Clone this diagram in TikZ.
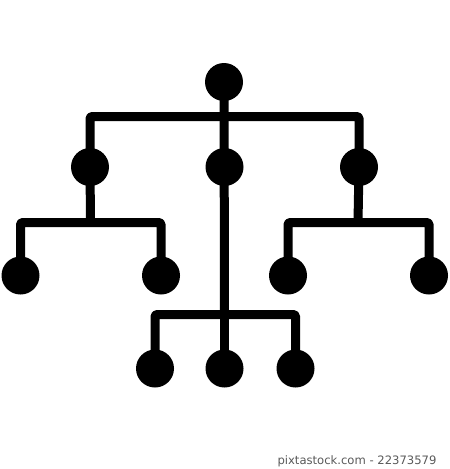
\documentclass[tikz,border=0pt]{standalone}
\usepackage{fontspec}
\newfontfamily\wmfont{DejaVu Sans}
\usetikzlibrary{backgrounds}
\begin{document}
\begin{tikzpicture}[x=1pt,y=-1pt,
  dot/.style={circle,fill=black,inner sep=0pt,minimum size=38pt},
  link/.style={line width=9pt,line join=round,rounded corners=1.5pt}]
\useasboundingbox (0,0) rectangle (450,469);
% level 0
\node[dot] (top) at (224,82) {};
% level 1
\node[dot] (l1) at (90,167) {};
\node[dot] (m1) at (224.5,167) {};
\node[dot] (r1) at (359,167) {};
% level 2
\node[dot] (ll) at (20.5,275.5) {};
\node[dot] (lr) at (161,275.5) {};
\node[dot] (rl) at (288,275.5) {};
\node[dot] (rr) at (429,275.5) {};
% level 3
\node[dot] (bl) at (155,368.5) {};
\node[dot] (bm) at (224.5,368.5) {};
\node[dot] (br) at (295.5,368.5) {};
% junctions
\coordinate (j0) at (224.5,116.5);
\coordinate (jl) at (90.5,222.5);
\coordinate (jr) at (358,222.5);
\coordinate (jb) at (224.5,314.5);
\begin{scope}[on background layer]
\draw[link] (top.center) -- (jb);
\draw[link] (l1.center) |- (j0) -| (r1.center);
\draw[link] (l1.center) -- (jl);
\draw[link] (ll.center) |- (jl) -| (lr.center);
\draw[link] (r1.center) -- (jr);
\draw[link] (rl.center) |- (jr) -| (rr.center);
\draw[link] (bl.center) |- (jb) -| (br.center);
\draw[link] (jb) -- (bm.center);
\end{scope}
\node[text=black!65,font=\wmfont\fontsize{11.6}{13}\selectfont,anchor=base] (wm) at (357,464) {pixtastock.com - 22373579};
\end{tikzpicture}
\end{document}
